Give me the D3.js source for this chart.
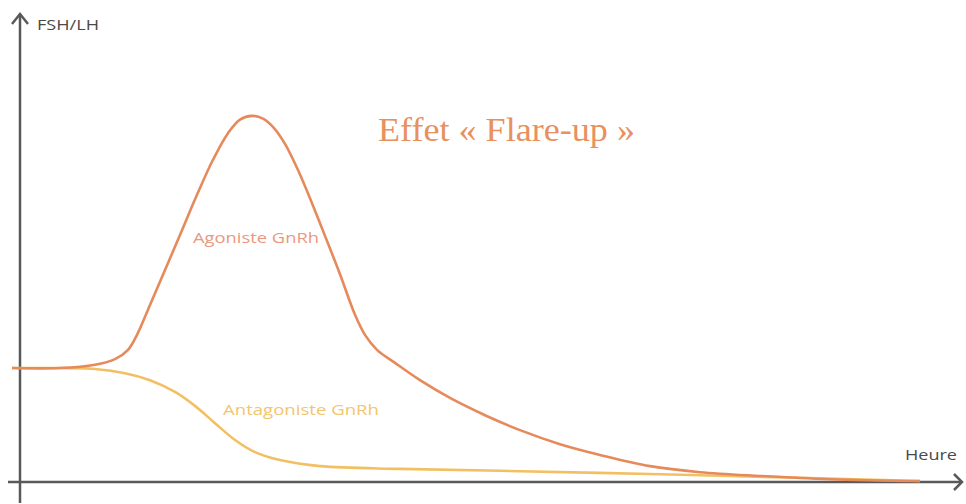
<!DOCTYPE html>
<html><head><meta charset="utf-8">
<script src="https://cdn.jsdelivr.net/npm/d3@7/dist/d3.min.js"></script>
<style>body{margin:0;background:#fff}svg{display:block}</style>
</head><body>
<svg id="c" width="966" height="504"></svg>
<script>
// time (arbitrary units) and FSH/LH level (arbitrary units)
const agonistX = [-0.8, 4.0, 7.5, 9.5, 10.8, 11.7, 13.0, 14.5, 16.0, 17.7, 19.3, 20.8, 22.0, 23.2, 24.3, 25.4, 26.5, 27.8, 29.2, 30.5, 32.0, 33.5, 34.5, 35.7, 37.5, 40.0, 43.0, 46.5, 50.0, 54.0, 58.0, 63.0, 68.0, 74.0, 81.0, 90.0];
const agonistY = [24.4, 24.4, 25.1, 26.3, 28.3, 31.5, 37.9, 45.4, 52.9, 61.5, 69.0, 74.7, 77.6, 78.4, 77.8, 75.8, 72.4, 66.8, 59.7, 52.7, 44.5, 35.8, 31.5, 28.3, 25.5, 21.8, 18.0, 14.3, 11.1, 8.1, 5.8, 3.4, 2.1, 1.3, 0.6, 0.2];
const antagonistX = [-0.8, 4, 7.5, 10.5, 13, 15.5, 17.5, 19.5, 21.5, 23.5, 26, 30, 38, 48, 63, 78, 90];
const antagonistY = [24.4, 24.4, 24.2, 23.3, 21.8, 19.3, 16.3, 12.6, 9.0, 6.4, 4.7, 3.4, 2.8, 2.4, 1.7, 0.9, 0.2];
const seriesNames = ["Agoniste GnRh", "Antagoniste GnRh"];
const title = "Effet « Flare-up »";
const yLabel = "FSH/LH";
const xLabel = "Heure";

const svg = d3.select("#c");
const x = d3.scaleLinear().domain([0, 94]).range([20, 960]);
const y = d3.scaleLinear().domain([0, 100]).range([482, 15]);

const line = d3.line().x(d => x(d[0])).y(d => y(d[1])).curve(d3.curveCatmullRom.alpha(0.5));
const ag = agonistX.map((v, i) => [v, agonistY[i]]);
const an = antagonistX.map((v, i) => [v, antagonistY[i]]);

// axes
const axisColor = "#595959";
svg.append("line").attr("x1", x(0)).attr("x2", x(0)).attr("y1", 503).attr("y2", y(100) - 1)
  .attr("stroke", axisColor).attr("stroke-width", 2.5);
svg.append("line").attr("x1", 8).attr("x2", x(94.2)).attr("y1", y(0)).attr("y2", y(0))
  .attr("stroke", axisColor).attr("stroke-width", 2.5);
// arrowheads
svg.append("path").attr("d", `M${x(0)-8},${y(100)+9} L${x(0)},${y(100)-1} L${x(0)+8},${y(100)+9}`)
  .attr("fill", "none").attr("stroke", axisColor).attr("stroke-width", 2.5);
svg.append("path").attr("d", `M${x(94.2)-8},${y(0)-8} L${x(94.2)},${y(0)} L${x(94.2)-8},${y(0)+8}`)
  .attr("fill", "none").attr("stroke", axisColor).attr("stroke-width", 2.5);

// curves
svg.append("path").attr("d", line(an)).attr("fill", "none").attr("stroke", "#F2C063").attr("stroke-width", 2.6);
svg.append("path").attr("d", line(ag)).attr("fill", "none").attr("stroke", "#E68A5C").attr("stroke-width", 2.6);

// labels
svg.append("text").attr("x", 37).attr("y", 30).text(yLabel)
  .attr("font-family", "Open Sans, sans-serif").attr("font-size", 14).attr("fill", "#4a4a4a")
  .attr("textLength", 62).attr("lengthAdjust", "spacingAndGlyphs");
svg.append("text").attr("x", 905).attr("y", 460).text(xLabel)
  .attr("font-family", "Open Sans, sans-serif").attr("font-size", 14).attr("fill", "#4a4a4a")
  .attr("textLength", 52).attr("lengthAdjust", "spacingAndGlyphs");
svg.append("text").attr("x", 378).attr("y", 141).text(title)
  .attr("font-family", "Liberation Serif, serif").attr("font-size", 33).attr("fill", "#E8905E")
  .attr("textLength", 257).attr("lengthAdjust", "spacingAndGlyphs");
svg.append("text").attr("x", 193).attr("y", 243).text(seriesNames[0])
  .attr("font-family", "Open Sans, sans-serif").attr("font-size", 15).attr("fill", "#EA9880")
  .attr("textLength", 126).attr("lengthAdjust", "spacingAndGlyphs");
svg.append("text").attr("x", 223).attr("y", 415).text(seriesNames[1])
  .attr("font-family", "Open Sans, sans-serif").attr("font-size", 15).attr("fill", "#F2C56E")
  .attr("textLength", 156).attr("lengthAdjust", "spacingAndGlyphs");
</script>
</body></html>
